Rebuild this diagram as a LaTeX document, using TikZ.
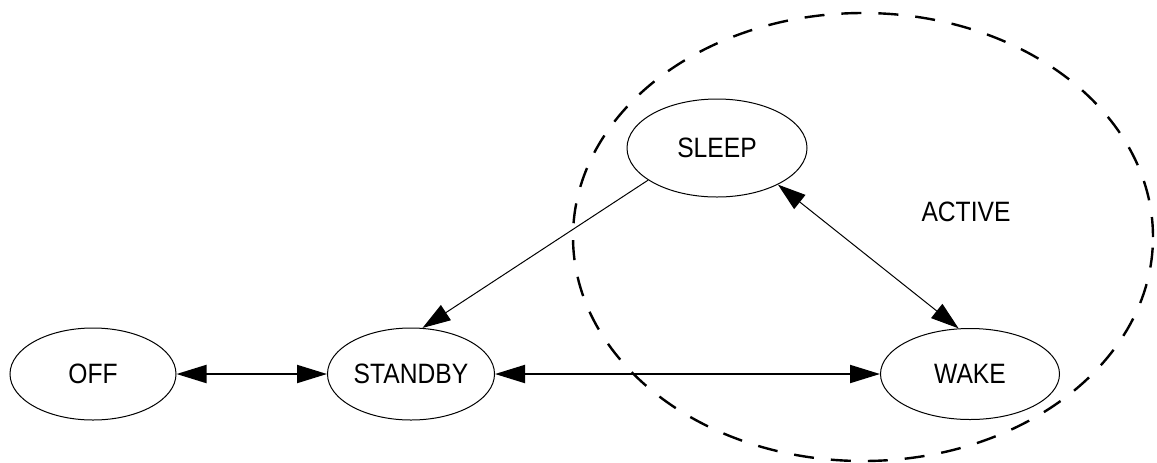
\documentclass[tikz,border=0pt]{standalone}
\usepackage{fontspec}
\setmainfont{Liberation Sans}[FakeStretch=0.88]
\usetikzlibrary{shapes.geometric,arrows.meta}
\begin{document}
\begin{tikzpicture}[x=0.5pt,y=-0.5pt,
  state/.style={ellipse,draw,line width=0.5pt,inner sep=0pt,font=\fontsize{14}{16}\selectfont},
  link/.style={line width=1pt,{Triangle[length=15pt,width=9pt]}-{Triangle[length=15pt,width=9pt]}},
  thin link/.style={line width=0.5pt,-{Triangle[length=14pt,width=9pt]}},
  thin both/.style={line width=0.5pt,{Triangle[length=14pt,width=9pt]}-{Triangle[length=14pt,width=9pt]}}]
\useasboundingbox (0,0) rectangle (1157,462);

\node[ellipse,draw,line width=1.2pt,dash pattern=on 10pt off 8.5pt,minimum width=290pt,minimum height=224pt] (group) at (863,237) {};
\node[font=\fontsize{14}{16}\selectfont] (activelabel) at (966,212) {ACTIVE};

\node[state,minimum width=83pt,minimum height=46pt] (off) at (93,374) {OFF};
\node[state,minimum width=83.5pt,minimum height=46pt] (standby) at (411,374) {STANDBY};
\node[state,minimum width=90pt,minimum height=49pt] (sleep) at (717,148) {SLEEP};
\node[state,minimum width=89.5pt,minimum height=45.5pt] (wake) at (970,374) {WAKE};

\draw[link] (off.east) -- (standby.west);
\draw[link] (standby.east) -- (wake.west);
\draw[thin link] (sleep.205) -- (standby.76);
\draw[thin both] (sleep.-31) -- (wake.104);
\end{tikzpicture}
\end{document}
